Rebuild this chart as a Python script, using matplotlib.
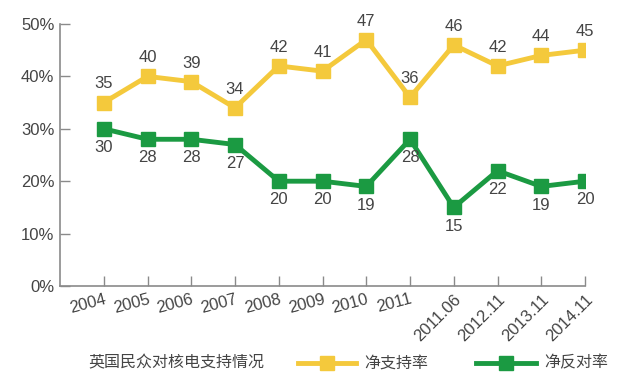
import numpy as np
import matplotlib
matplotlib.use('Agg')
import matplotlib.pyplot as plt
from matplotlib.lines import Line2D

plt.rcParams['font.family'] = ['Liberation Sans', 'Noto Sans CJK SC', 'DejaVu Sans']

# ── Data ──────────────────────────────────────────────────────────────────────
periods = ['2004', '2005', '2006', '2007', '2008', '2009', '2010', '2011',
           '2011.06', '2012.11', '2013.11', '2014.11']
support = [35, 40, 39, 34, 42, 41, 47, 36, 46, 42, 44, 45]
oppose = [30, 28, 28, 27, 20, 20, 19, 28, 15, 22, 19, 20]
yticks = [0, 10, 20, 30, 40, 50]

col_sup = '#f4c93c'
col_opp = '#1b9a42'
col_axis = '#8a8a8a'
col_text = '#444444'

# ── Figure ────────────────────────────────────────────────────────────────────
fig = plt.figure(figsize=(6.4, 3.83), dpi=100)
ax = fig.add_axes([60 / 640, 1 - 286 / 383, 525 / 640, 262 / 383])

x = np.arange(len(periods))
ax.plot(x, support, color=col_sup, lw=3.5, marker='s', ms=10, zorder=3)
ax.plot(x, oppose, color=col_opp, lw=3.5, marker='s', ms=10, zorder=3)

for xi, v in zip(x, support):
    ax.annotate(str(v), (xi, v), xytext=(0, 8), textcoords='offset points',
                ha='center', va='bottom', fontsize=12, color=col_text)
for xi, v in zip(x, oppose):
    ax.annotate(str(v), (xi, v), xytext=(0, -8), textcoords='offset points',
                ha='center', va='top', fontsize=12, color=col_text)

ax.set_xlim(-1, len(periods) - 1)
ax.set_ylim(0, 50)
ax.set_yticks(yticks)
ax.set_yticklabels([f'{t}%' for t in yticks], fontsize=12, color=col_text)
ax.set_xticks(x)
ax.set_xticklabels(periods, fontsize=12, color=col_text)
for i, lab in enumerate(ax.get_xticklabels()):
    lab.set_rotation(15 if i < 8 else 45)
    lab.set_ha('right')
    lab.set_rotation_mode('anchor')

ax.tick_params(axis='both', direction='in', length=7, color=col_axis, width=1)
ax.tick_params(axis='y', pad=4)
ax.tick_params(axis='x', pad=4)
for s in ['top', 'right']:
    ax.spines[s].set_visible(False)
for s in ['left', 'bottom']:
    ax.spines[s].set_color(col_axis)
    ax.spines[s].set_linewidth(1.2)

# ── Legend at bottom ──────────────────────────────────────────────────────────
ly = 1 - 363 / 383
fig.text(88 / 640, ly, '英国民众对核电支持情况', fontsize=11.5, color=col_text,
         va='center', ha='left')
for x0, x1, col, label in [(298, 356, col_sup, '净支持率'),
                           (476, 536, col_opp, '净反对率')]:
    xs = [x0 / 640, (x0 + x1) / 2 / 640, x1 / 640]
    fig.add_artist(Line2D(xs, [ly] * 3, transform=fig.transFigure, color=col,
                          lw=3.5, marker='s', ms=10, markevery=[1]))
    fig.text((x1 + 8) / 640, ly, label, fontsize=11.5, color=col_text,
             va='center', ha='left')

plt.savefig('out.png', dpi=100)
